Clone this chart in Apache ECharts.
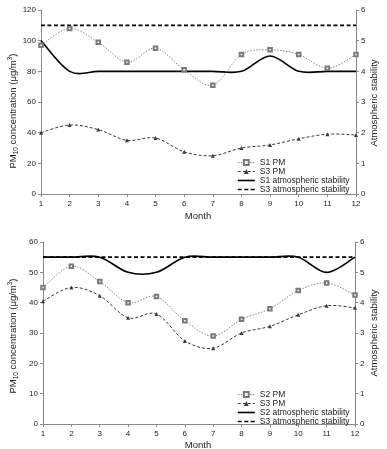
<!DOCTYPE html>
<html><head><meta charset="utf-8">
<script src="https://cdn.jsdelivr.net/npm/echarts@6/dist/echarts.min.js"></script>
<style>html,body{margin:0;padding:0;background:#fff}#c{width:387px;height:449px}</style>
</head><body><div id="c"></div>
<script>
// ---- data ----
var months = ['1','2','3','4','5','6','7','8','9','10','11','12'];
// top panel
var s1PM   = [97,108,99,86,95,81,71,91,94,91,82,91];
var s3PM   = [40,45,42,35,36.5,27.5,25,30,32,36,39,38.5];
var s1Stab = [5,4,4,4,4,4,4,4,4.5,4,4,4];
var s3Stab = [5.5,5.5,5.5,5.5,5.5,5.5,5.5,5.5,5.5,5.5,5.5,5.5];
// bottom panel
var s2PM    = [45,52,47,40,42,34,29,34.5,38,44,46.5,42.5];
var s3PMb   = [40.5,45,42.3,35,36.3,27.4,25,30,32.2,36,39,38.3];
var s2Stab  = [5.5,5.5,5.5,5,5,5.5,5.5,5.5,5.5,5.5,5,5.5];
var s3StabB = [5.5,5.5,5.5,5.5,5.5,5.5,5.5,5.5,5.5,5.5,5.5,5.5];
var leftTicksTop = {min:0,max:120,interval:20};
var leftTicksBot = {min:0,max:60,interval:10};
var rightTicks = {min:0,max:6,interval:1};

var FONT = 'Liberation Sans, Arial, sans-serif';
var AX = '#8a8a8a';
var TXT = '#222';

function xAxis(gi){
  return {type:'category', gridIndex:gi, data:months, boundaryGap:false,
    axisLine:{lineStyle:{color:AX,width:1}}, axisTick:{alignWithLabel:true,length:3,lineStyle:{color:AX}},
    axisLabel:{color:TXT,fontSize:8,fontFamily:FONT,margin:6}, splitLine:{show:false}};
}
function yAxis(gi,t,pos){
  return {type:'value', gridIndex:gi, position:pos, min:t.min, max:t.max, interval:t.interval,
    axisLine:{show:true,lineStyle:{color:AX,width:1}}, axisTick:{show:true,length:3,lineStyle:{color:AX}},
    axisLabel:{color:TXT,fontSize:8,fontFamily:FONT,margin:5}, splitLine:{show:false}};
}
// Excel-like smoothed curve (Catmull-Rom through the data points, via the axes' own coord mapping)
function crPath(p){
  var n=p.length, d='M'+p[0][0]+','+p[0][1];
  for(var i=0;i<n-1;i++){
    var p0=p[Math.max(i-1,0)], p1=p[i], p2=p[i+1], p3=p[Math.min(i+2,n-1)];
    var c1x=p1[0]+(p2[0]-p0[0])/6, c1y=p1[1]+(p2[1]-p0[1])/6;
    var c2x=p2[0]-(p3[0]-p1[0])/6, c2y=p2[1]-(p3[1]-p1[1])/6;
    d+=' C'+c1x+','+c1y+' '+c2x+','+c2y+' '+p2[0]+','+p2[1];
  }
  return d;
}
function curve(arr,xi,yi,color,width,dash,z){
  return {type:'custom',xAxisIndex:xi,yAxisIndex:yi,silent:true,z:z,
    data:arr.map(function(v,i){return [i,v];}),
    encode:{x:0,y:1},
    renderItem:function(params,api){
      if(params.dataIndex!==0) return null;
      var pts=arr.map(function(v,i){return api.coord([i,v]);});
      return {type:'path',shape:{pathData:crPath(pts)},
        style:{fill:'none',stroke:color,lineWidth:width,lineDash:dash}};
    }};
}
function pmLine(name,data,xi,yi){
  return {name:name,type:'line',xAxisIndex:xi,yAxisIndex:yi,data:data,
    symbol:'emptyRect',symbolSize:3.5,showSymbol:true,
    itemStyle:{color:'#7a7a7a',borderColor:'#7a7a7a',borderWidth:0.9},
    lineStyle:{color:'#888',width:1,type:[1.5,1.5],opacity:0}, z:4};
}
function pm3Line(name,data,xi,yi){
  return {name:name,type:'line',xAxisIndex:xi,yAxisIndex:yi,data:data,
    symbol:'triangle',symbolSize:4,showSymbol:true,
    itemStyle:{color:'#3a3a3a'},
    lineStyle:{color:'#3a3a3a',width:1,type:[3,2],opacity:0}, z:4};
}
function stabLine(name,data,xi,yi,dashed){
  return {name:name,type:'line',xAxisIndex:xi,yAxisIndex:yi,data:data,
    symbol:'none',showSymbol:false,
    itemStyle:{color:'#000'},
    lineStyle:{color:'#000',width:1.6,type:dashed?[4,2.5]:'solid',opacity:0}, z:1};
}
function legend(top,names){
  return {orient:'vertical',left:232,top:top,itemWidth:17,itemHeight:6,itemGap:0,
    selectedMode:false,
    data:[
      {name:names[0],lineStyle:{opacity:1,width:1}},
      {name:names[1],lineStyle:{opacity:1,width:1}},
      {name:names[2],lineStyle:{opacity:1,width:1.6},itemStyle:{opacity:0}},
      {name:names[3],lineStyle:{opacity:1,width:1.6},itemStyle:{opacity:0}}
    ],
    textStyle:{fontSize:8.5,fontFamily:FONT,color:TXT,lineHeight:8,padding:0}};
}
var titleRich = {
  a:{fontSize:9.5,fontFamily:FONT,fill:TXT,color:TXT,lineHeight:13,verticalAlign:'middle'},
  s:{fontSize:6.5,fontFamily:FONT,fill:TXT,color:TXT,lineHeight:13,verticalAlign:'bottom'},
  p:{fontSize:6.5,fontFamily:FONT,fill:TXT,color:TXT,lineHeight:13,verticalAlign:'top'}
};
function vtext(x,y,txt,rich){
  return {type:'text',x:x,y:y,rotation:Math.PI/2,
    style:{text:txt,rich:rich,fontSize:9.5,fontFamily:FONT,fill:TXT,align:'center',verticalAlign:'middle'}};
}
function htext(x,y,txt){
  return {type:'text',x:x,y:y,style:{text:txt,fontSize:9.5,fontFamily:FONT,fill:TXT,align:'center',verticalAlign:'middle'}};
}
var pmTitle = '{a|PM}{s|10}{a| concentration (μg/m}{p|3}{a|)}';

var chart = echarts.init(document.getElementById('c'),null,{renderer:'canvas'});
chart.setOption({
  animation:false,
  backgroundColor:'#fff',
  grid:[
    {left:41,top:10,right:31,bottom:255,containLabel:false,outerBoundsMode:'none'},
    {left:43,top:242,right:32,bottom:25,containLabel:false,outerBoundsMode:'none'}
  ],
  xAxis:[xAxis(0),xAxis(1)],
  yAxis:[yAxis(0,leftTicksTop,'left'),yAxis(0,rightTicks,'right'),yAxis(1,leftTicksBot,'left'),yAxis(1,rightTicks,'right')],
  legend:[
    legend(153,['S1 PM','S3 PM','S1 atmospheric stability','S3 atmospheric stability']),
    legend(385,['S2 PM','S3 PM','S2 atmospheric stability','S3 atmospheric stability'])
  ],
  series:[
    stabLine('S3 atmospheric stability',s3Stab,0,1,true),
    stabLine('S1 atmospheric stability',s1Stab,0,1,false),
    pmLine('S1 PM',s1PM,0,0),
    pm3Line('S3 PM',s3PM,0,0),
    stabLine('S3 atmospheric stability',s3StabB,1,3,true),
    stabLine('S2 atmospheric stability',s2Stab,1,3,false),
    pmLine('S2 PM',s2PM,1,2),
    pm3Line('S3 PM',s3PMb,1,2),
    curve(s3Stab,0,1,'#000',1.6,[4,2.5],2),
    curve(s1Stab,0,1,'#000',1.6,null,2),
    curve(s1PM,0,0,'#888',1,[1.5,1.5],3),
    curve(s3PM,0,0,'#3a3a3a',1,[3,2],3),
    curve(s3StabB,1,3,'#000',1.6,[4,2.5],2),
    curve(s2Stab,1,3,'#000',1.6,null,2),
    curve(s2PM,1,2,'#888',1,[1.5,1.5],3),
    curve(s3PMb,1,2,'#3a3a3a',1,[3,2],3)
  ],
  graphic:[
    vtext(13,111,pmTitle,titleRich),
    vtext(13,336,pmTitle,titleRich),
    vtext(374,103,'Atmospheric stability',null),
    vtext(374,333,'Atmospheric stability',null),
    htext(198,216,'Month'),
    htext(198,445,'Month')
  ]
});
</script></body></html>
